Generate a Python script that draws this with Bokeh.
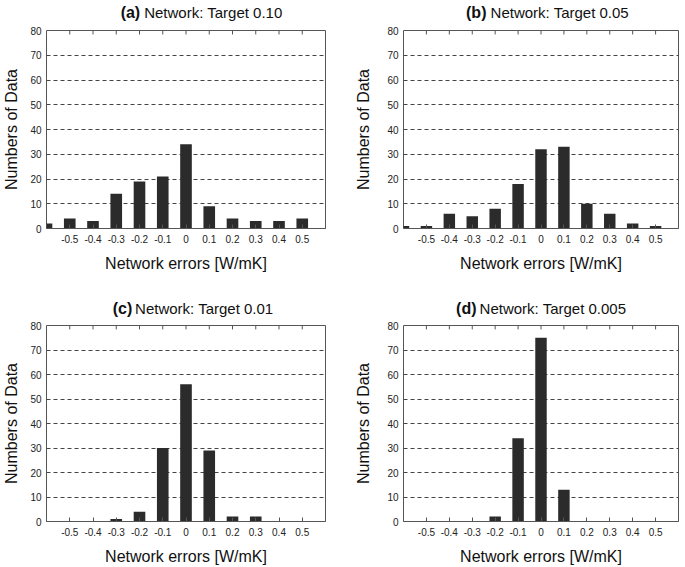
from bokeh.plotting import figure
from bokeh.models import Label, FixedTicker, Range1d
from bokeh.layouts import column, row
from bokeh.embed import file_html
from bokeh.resources import INLINE

# ---- data ----
bin_centers = [-0.6, -0.5, -0.4, -0.3, -0.2, -0.1, 0.0, 0.1, 0.2, 0.3, 0.4, 0.5]
counts_a = [2, 4, 3, 14, 19, 21, 34, 9, 4, 3, 3, 4]
counts_b = [1, 1, 6, 5, 8, 18, 32, 33, 10, 6, 2, 1]
counts_c = [0, 0, 0, 1, 4, 30, 56, 29, 2, 2, 0, 0]
counts_d = [0, 0, 0, 0, 2, 34, 75, 13, 0, 0, 0, 0]

x_ticks = [-0.5, -0.4, -0.3, -0.2, -0.1, 0, 0.1, 0.2, 0.3, 0.4, 0.5]
x_tick_labels = ["-0.5", "-0.4", "-0.3", "-0.2", "-0.1", "0", "0.1", "0.2", "0.3", "0.4", "0.5"]
y_ticks = [0, 10, 20, 30, 40, 50, 60, 70, 80]
grid_ticks = [10, 20, 30, 40, 50, 60, 70]

panel_tags = ["(a)", "(b)", "(c)", "(d)"]
panel_titles = ["Network: Target 0.10", "Network: Target 0.05",
                "Network: Target 0.01", "Network: Target 0.005"]
x_label = "Network errors [W/mK]"
y_label = "Numbers of Data"

FONT = "Liberation Sans"
BAR = "#2b2b2b"
AXIS = "#555555"


def title_strip(tag, title, width, height, x_range, tag_right, title_left, ymid):
    t = figure(width=width, height=height, output_backend="svg",
               toolbar_location=None, tools="",
               x_range=x_range, y_range=Range1d(0, height),
               min_border=0, min_border_left=0, min_border_right=0,
               min_border_top=0, min_border_bottom=0)
    t.axis.visible = False
    t.grid.visible = False
    t.outline_line_color = None
    t.background_fill_color = "white"
    t.border_fill_color = "white"
    t.add_layout(Label(x=tag_right, y=ymid, text=tag, text_align="right",
                       text_baseline="middle", text_font=FONT,
                       text_font_size="16px", text_font_style="bold",
                       text_color="#111111"))
    t.add_layout(Label(x=title_left, y=ymid, text=title, text_align="left",
                       text_baseline="middle", text_font=FONT,
                       text_font_size="15px", text_color="#111111"))
    return t


def make_panel(tag, title, counts, left_col, top_row, tag_right, title_left):
    if left_col:
        width, bl, br = 340, 45, 15
    else:
        width, bl, br = 345, 63, 7
    if top_row:
        th, ymid = 22, 10
        height, bt, bb = 261, 8, 55
    else:
        th, ymid = 34, 9
        height, bt, bb = 250, 8, 44

    x_range = Range1d(-0.6, 0.6)
    strip = title_strip(tag, title, width, th, x_range, tag_right, title_left, ymid)

    p = figure(width=width, height=height, output_backend="svg",
               toolbar_location=None, tools="",
               x_range=x_range, y_range=Range1d(0, 80),
               min_border_left=bl, min_border_right=br,
               min_border_top=bt, min_border_bottom=bb)
    p.background_fill_color = "white"
    p.border_fill_color = "white"
    p.outline_line_color = AXIS
    p.outline_line_width = 1

    p.vbar(x=bin_centers, top=counts, width=0.05, bottom=0,
           fill_color=BAR, line_color=None)

    # inward tick marks along the top edge of the frame
    top_val = y_ticks[-1]
    p.segment(x0=x_ticks, x1=x_ticks, y0=[top_val] * len(x_ticks),
              y1=[top_val - 1.6] * len(x_ticks), line_color=AXIS, line_width=1)

    xa = p.xaxis[0]
    xa.ticker = FixedTicker(ticks=x_ticks)
    xa.major_label_overrides = dict(zip(x_ticks, x_tick_labels))
    xa.minor_tick_line_color = None
    xa.major_tick_in = 4
    xa.major_tick_out = 0
    xa.major_tick_line_color = AXIS
    xa.axis_line_color = AXIS
    xa.major_label_standoff = 6
    xa.major_label_text_font = FONT
    xa.major_label_text_font_size = "10px"
    xa.major_label_text_color = "#222222"
    xa.axis_label = x_label
    xa.axis_label_text_font = FONT
    xa.axis_label_text_font_size = "16px"
    xa.axis_label_text_font_style = "normal"
    xa.axis_label_text_color = "#111111"
    xa.axis_label_standoff = 9

    ya = p.yaxis[0]
    ya.ticker = FixedTicker(ticks=y_ticks)
    ya.minor_tick_line_color = None
    ya.major_tick_in = 0
    ya.major_tick_out = 0
    ya.axis_line_color = None
    ya.major_label_standoff = 5
    ya.major_label_text_font = FONT
    ya.major_label_text_font_size = "10px"
    ya.major_label_text_color = "#222222"
    ya.axis_label = y_label
    ya.axis_label_text_font = FONT
    ya.axis_label_text_font_size = "16px"
    ya.axis_label_text_font_style = "normal"
    ya.axis_label_text_color = "#111111"
    ya.axis_label_standoff = 7 if left_col else 12

    p.xgrid.grid_line_color = None
    p.ygrid.ticker = FixedTicker(ticks=grid_ticks)
    p.ygrid.grid_line_color = "#444444"
    p.ygrid.grid_line_dash = "4 3"
    p.ygrid.grid_line_width = 1

    return column(strip, p, spacing=0)


pa = make_panel(panel_tags[0], panel_titles[0], counts_a, True, True, -0.197, -0.18)
pb = make_panel(panel_tags[1], panel_titles[1], counts_b, False, True, -0.238, -0.22)
pc = make_panel(panel_tags[2], panel_titles[2], counts_c, True, False, -0.231, -0.219)
pd = make_panel(panel_tags[3], panel_titles[3], counts_d, False, False, -0.2815, -0.268)

layout = column(row(pa, pb, spacing=0), row(pc, pd, spacing=0), spacing=0)

open("out.html", "w").write(file_html(layout, INLINE))
